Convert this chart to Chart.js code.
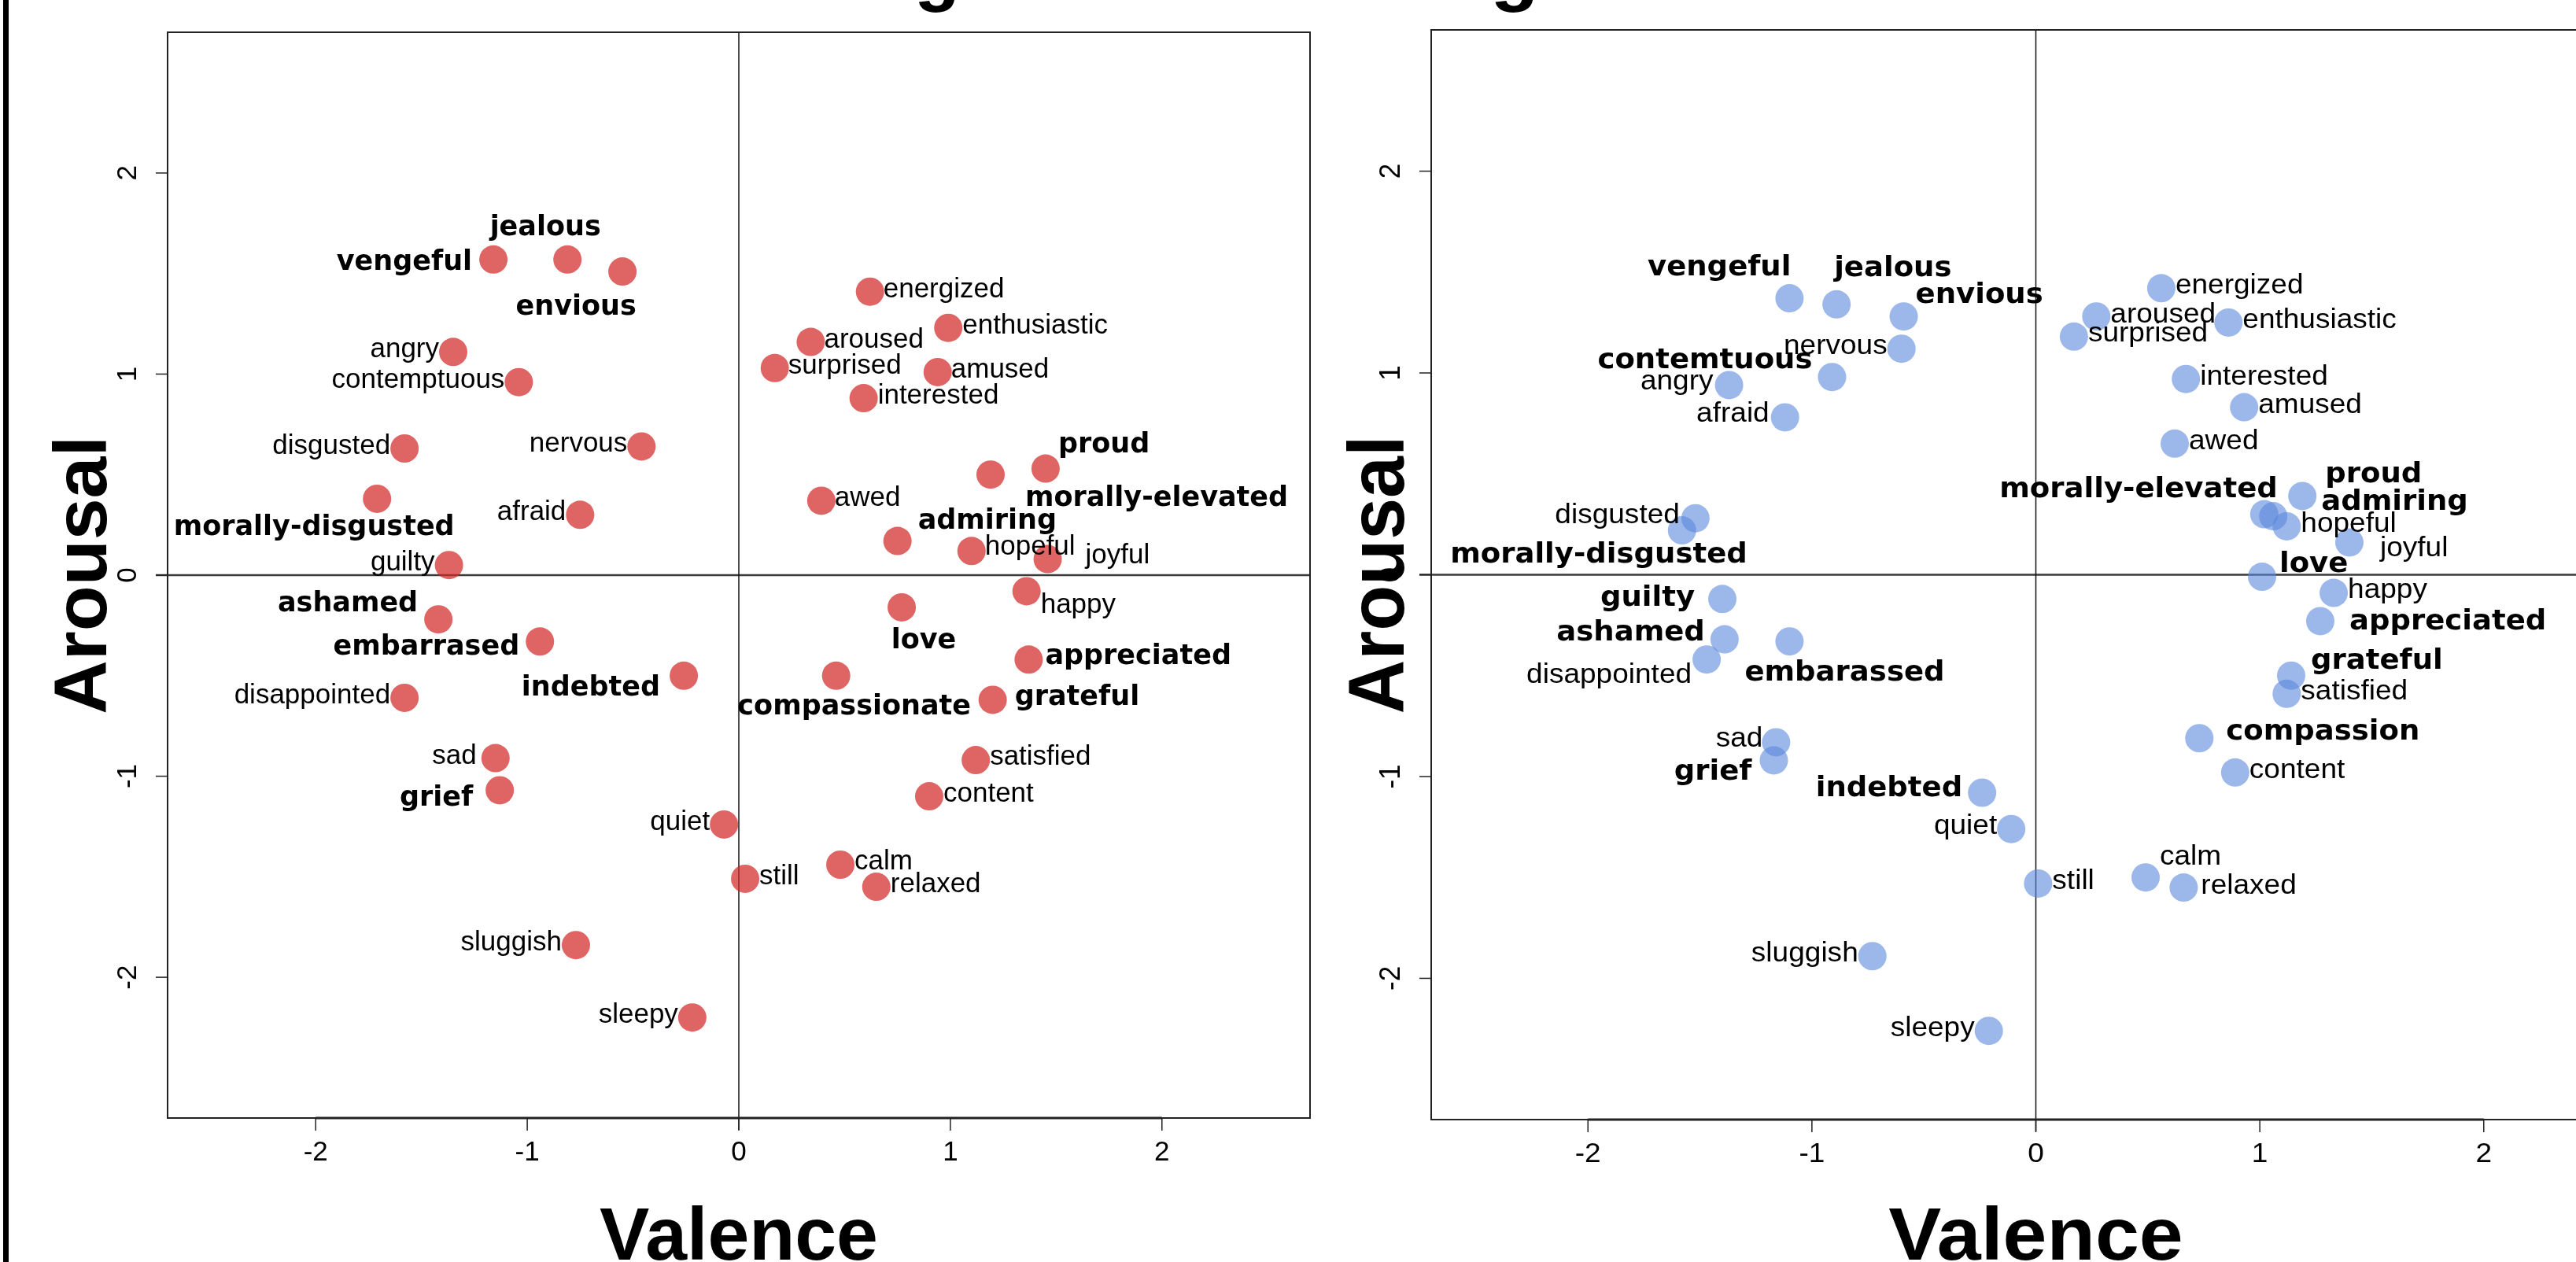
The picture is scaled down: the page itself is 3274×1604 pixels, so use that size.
<!DOCTYPE html>
<html>
<head>
<meta charset="utf-8">
<script src="https://cdn.jsdelivr.net/npm/chart.js@4.4.1/dist/chart.umd.min.js"></script>
<style>
  html, body { margin: 0; padding: 0; background: #fff; overflow: hidden; width: 3274px; height: 1604px; }
  canvas { position: absolute; top: 0; }
  #leftChart { left: 0; width: 1700px; height: 1604px; }
  #rightChart { left: 1700px; width: 1700px; height: 1604px; }
</style>
</head>
<body>
<canvas id="leftChart" width="1700" height="1604"></canvas>
<canvas id="rightChart" width="1700" height="1604"></canvas>
<script>
// Axis ticks shared by both panels
const ticks = [-2, -1, 0, 1, 2];

// Left panel (red)
const leftEmotions = ['vengeful', 'jealous', 'envious', 'angry', 'contemptuous', 'disgusted', 'nervous',
  'morally-disgusted', 'afraid', 'guilty', 'ashamed', 'embarrased', 'disappointed', 'indebted', 'sad', 'grief',
  'quiet', 'still', 'sluggish', 'sleepy', 'energized', 'enthusiastic', 'aroused', 'surprised', 'amused',
  'interested', 'proud', 'morally-elevated', 'awed', 'admiring', 'hopeful', 'joyful', 'happy', 'love',
  'appreciated', 'compassionate', 'grateful', 'satisfied', 'content', 'calm', 'relaxed'];
const leftValence = [-1.16, -0.81, -0.55, -1.35, -1.04, -1.58, -0.46, -1.71, -0.75, -1.37, -1.42, -0.94, -1.58,
  -0.26, -1.15, -1.13, -0.07, 0.03, -0.77, -0.22, 0.62, 0.99, 0.34, 0.17, 0.94, 0.59, 1.45, 1.19, 0.39, 0.75,
  1.10, 1.46, 1.36, 0.77, 1.37, 0.46, 1.20, 1.12, 0.90, 0.48, 0.65];
const leftArousal = [1.57, 1.57, 1.51, 1.11, 0.96, 0.63, 0.64, 0.38, 0.30, 0.05, -0.22, -0.33, -0.61, -0.50,
  -0.91, -1.07, -1.24, -1.51, -1.84, -2.20, 1.41, 1.23, 1.16, 1.03, 1.01, 0.88, 0.53, 0.50, 0.37, 0.17, 0.12,
  0.08, -0.08, -0.16, -0.42, -0.50, -0.62, -0.92, -1.10, -1.44, -1.55];
const leftBold = ['vengeful', 'jealous', 'envious', 'morally-disgusted', 'ashamed', 'embarrased', 'indebted',
  'grief', 'proud', 'morally-elevated', 'admiring', 'love', 'appreciated', 'compassionate', 'grateful'];

// Right panel (blue)
const rightEmotions = ['vengeful', 'jealous', 'envious', 'angry', 'contemtuous', 'disgusted', 'nervous',
  'morally-disgusted', 'afraid', 'guilty', 'ashamed', 'embarassed', 'disappointed', 'indebted', 'sad', 'grief',
  'quiet', 'still', 'sluggish', 'sleepy', 'energized', 'enthusiastic', 'aroused', 'surprised', 'amused',
  'interested', 'proud', 'morally-elevated', 'awed', 'admiring', 'hopeful', 'joyful', 'happy', 'love',
  'appreciated', 'compassion', 'grateful', 'satisfied', 'content', 'calm', 'relaxed'];
const rightValence = [-1.10, -0.89, -0.59, -1.37, -0.91, -1.52, -0.60, -1.58, -1.12, -1.40, -1.39, -1.10, -1.47,
  -0.24, -1.16, -1.17, -0.11, 0.01, -0.73, -0.21, 0.56, 0.86, 0.27, 0.17, 0.93, 0.67, 1.19, 1.02, 0.62, 1.06,
  1.12, 1.40, 1.33, 1.01, 1.27, 0.73, 1.14, 1.12, 0.89, 0.49, 0.66];
const rightArousal = [1.37, 1.34, 1.28, 0.94, 0.98, 0.28, 1.12, 0.22, 0.78, -0.12, -0.32, -0.33, -0.42, -1.08,
  -0.83, -0.92, -1.26, -1.53, -1.89, -2.26, 1.42, 1.25, 1.28, 1.18, 0.83, 0.97, 0.39, 0.30, 0.65, 0.29, 0.24,
  0.16, -0.09, -0.01, -0.23, -0.81, -0.50, -0.59, -0.98, -1.50, -1.55];
const rightBold = ['vengeful', 'jealous', 'envious', 'contemtuous', 'morally-disgusted', 'guilty', 'ashamed',
  'embarassed', 'indebted', 'grief', 'proud', 'morally-elevated', 'admiring', 'love', 'appreciated',
  'compassion', 'grateful'];

// label placement next to each point: [textAlign, dx, baseline dy] in px
const leftPlace = [
  ['right', -27, 13], ['center', -28, -31], ['center', -59, 55], ['right', -18, 7], ['right', -18, 7],
  ['right', -18, 7], ['right', -18, 7], ['center', -80, 46], ['right', -18, 7], ['right', -18, 7],
  ['right', -26, -10], ['right', -26, 17], ['right', -18, 7], ['right', -30, 25], ['right', -24, 7],
  ['right', -34, 20], ['right', -18, 7], ['left', 18, 7], ['right', -18, 7], ['right', -18, 7],
  ['left', 17, 7], ['left', 18, 7], ['left', 17, 7], ['left', 17, 7], ['left', 17, 7],
  ['left', 18, 7], ['left', 16, -21], ['left', 44, 40], ['left', 17, 7], ['left', 26, -16],
  ['left', 17, 5], ['left', 48, 5], ['left', 18, 28], ['center', 28, 52], ['left', 21, 6],
  ['center', 23, 49], ['left', 28, 7], ['left', 18, 6], ['left', 18, 7], ['left', 18, 6], ['left', 18, 7]
];
const rightPlace = [
  ['right', 2, -29], ['left', -3, -36], ['left', 15, -17], ['right', -20, 6], ['right', -25, -11],
  ['right', -20, 6], ['right', -18, 7], ['right', 83, 41], ['right', -20, 6], ['right', -35, 9],
  ['right', -25, 1], ['left', -57, 50], ['right', -19, 30], ['right', -25, 4], ['right', -17, 6],
  ['right', -28, 25], ['right', -18, 6], ['left', 18, 7], ['right', -18, 7], ['right', -18, 7],
  ['left', 18, 7], ['left', 18, 7], ['left', 18, 8], ['left', 18, 6], ['left', 18, 7],
  ['left', 18, 7], ['left', 29, -17], ['right', 17, -22], ['left', 18, 7], ['left', 61, -8],
  ['left', 18, 7], ['left', 39, 18], ['left', 18, 6], ['left', 22, -6], ['left', 37, 11],
  ['left', 34, 2], ['left', 25, -9], ['left', 18, 7], ['left', 18, 7], ['left', 18, -16], ['left', 22, 8]
];

const SANS = '"Liberation Sans", Arial, Helvetica, sans-serif';

// draw text at (x, y), stretched horizontally by sx, optionally rotated
function stretchText(ctx, str, x, y, sx, rot) {
  ctx.save();
  ctx.translate(x, y);
  ctx.scale(sx, 1);
  if (rot) ctx.rotate(rot);
  ctx.fillText(str, 0, 0);
  ctx.restore();
}

// R-style box, axes, zero lines and text labels
function panelPlugin(p) {
  const sx = p.stretch;
  return {
    id: 'rpanel',
    beforeDatasetsDraw(chart) {
      const { ctx, chartArea: a, scales: { x, y } } = chart;
      ctx.save();
      ctx.strokeStyle = '#3a3a3a';
      ctx.lineWidth = 2.5;
      const y0 = y.getPixelForValue(0);
      ctx.beginPath(); ctx.moveTo(a.left - 15, y0); ctx.lineTo(a.right, y0); ctx.stroke();
      ctx.strokeStyle = '#111';
      ctx.lineWidth = 1.5;
      const x0 = x.getPixelForValue(0);
      ctx.beginPath(); ctx.moveTo(x0, a.top); ctx.lineTo(x0, a.bottom + 15); ctx.stroke();
      ctx.restore();
    },
    afterDatasetsDraw(chart) {
      const { ctx, scales: { x, y } } = chart;
      ctx.save();
      ctx.fillStyle = '#000';
      ctx.textBaseline = 'alphabetic';
      p.labels.forEach((lab, i) => {
        const [align, dx, dy] = p.place[i];
        const bold = p.bold.includes(lab);
        ctx.font = bold ? 'bold 35px "DejaVu Sans", sans-serif' : '35px ' + SANS;
        ctx.textAlign = align;
        stretchText(ctx, lab, x.getPixelForValue(p.valence[i]) + dx, y.getPixelForValue(p.arousal[i]) + dy, sx);
      });
      ctx.restore();
    },
    afterDraw(chart) {
      const { ctx, chartArea: a, scales: { x, y } } = chart;
      ctx.save();
      // box
      ctx.strokeStyle = '#222';
      ctx.lineWidth = 2;
      ctx.strokeRect(a.left, a.top, a.right - a.left, a.bottom - a.top);

      // x axis
      ctx.lineWidth = 3;
      ctx.beginPath();
      ctx.moveTo(x.getPixelForValue(ticks[0]), a.bottom);
      ctx.lineTo(x.getPixelForValue(ticks[ticks.length - 1]), a.bottom);
      ctx.stroke();
      ctx.lineWidth = 1.5;
      ctx.fillStyle = '#000';
      ctx.font = '35px ' + SANS;
      ctx.textAlign = 'center';
      ctx.textBaseline = 'alphabetic';
      ticks.forEach(t => {
        const px = x.getPixelForValue(t);
        ctx.beginPath(); ctx.moveTo(px, a.bottom); ctx.lineTo(px, a.bottom + 16); ctx.stroke();
        stretchText(ctx, String(t), px, a.bottom + 54, sx);
      });

      // y axis, labels parallel to axis
      ticks.forEach(t => {
        const py = y.getPixelForValue(t);
        ctx.beginPath(); ctx.moveTo(a.left - 15, py); ctx.lineTo(a.left, py); ctx.stroke();
        stretchText(ctx, String(t), a.left - 40, py, sx, -Math.PI / 2);
      });

      // axis titles
      ctx.font = 'bold 95px ' + SANS;
      stretchText(ctx, 'Valence', x.getPixelForValue(0), 1601, sx);
      stretchText(ctx, 'Arousal', p.arousalX, y.getPixelForValue(0), sx, -Math.PI / 2);

      // title, cut off by the top edge: only the descender of g shows
      ctx.textAlign = 'left';
      const pre = ctx.measureText(p.title.slice(0, p.title.indexOf('g'))).width * sx;
      const gw = ctx.measureText('g').width * sx;
      stretchText(ctx, p.title, p.gX - pre - gw / 2, -4, sx);

      if (p.frame) {
        ctx.fillRect(4, 0, 7, chart.height);
      }
      ctx.restore();
    }
  };
}

function makePanel(id, p) {
  const pts = p.valence.map((v, i) => ({ x: v, y: p.arousal[i] }));
  return new Chart(document.getElementById(id), {
    type: 'scatter',
    data: {
      datasets: [{
        data: pts,
        backgroundColor: p.color,
        borderWidth: 0,
        pointRadius: 18,
        pointHoverRadius: 18
      }]
    },
    options: {
      responsive: false,
      animation: false,
      events: [],
      layout: { padding: p.padding },
      plugins: { legend: { display: false }, tooltip: { enabled: false } },
      scales: {
        x: { type: 'linear', min: -2.7, max: 2.7, display: false },
        y: { type: 'linear', min: -2.7, max: 2.7, display: false }
      }
    },
    plugins: [panelPlugin(p)]
  });
}

makePanel('leftChart', {
  labels: leftEmotions, valence: leftValence, arousal: leftArousal, bold: leftBold, place: leftPlace,
  color: 'rgba(210, 40, 40, 0.72)',
  padding: { left: 213, right: 35, top: 41, bottom: 183 },
  arousalX: 135, gX: 1191, title: 'Human ratings', frame: true, stretch: 1
});

// the right figure is a little wider in the source, text included
makePanel('rightChart', {
  labels: rightEmotions, valence: rightValence, arousal: rightArousal, bold: rightBold, place: rightPlace,
  color: 'rgba(90, 135, 220, 0.6)',
  padding: { left: 119, right: 44, top: 38, bottom: 181 },
  arousalX: 84, gX: 225, title: 'Model ratings', frame: false, stretch: 1.058
});
</script>
</body>
</html>
